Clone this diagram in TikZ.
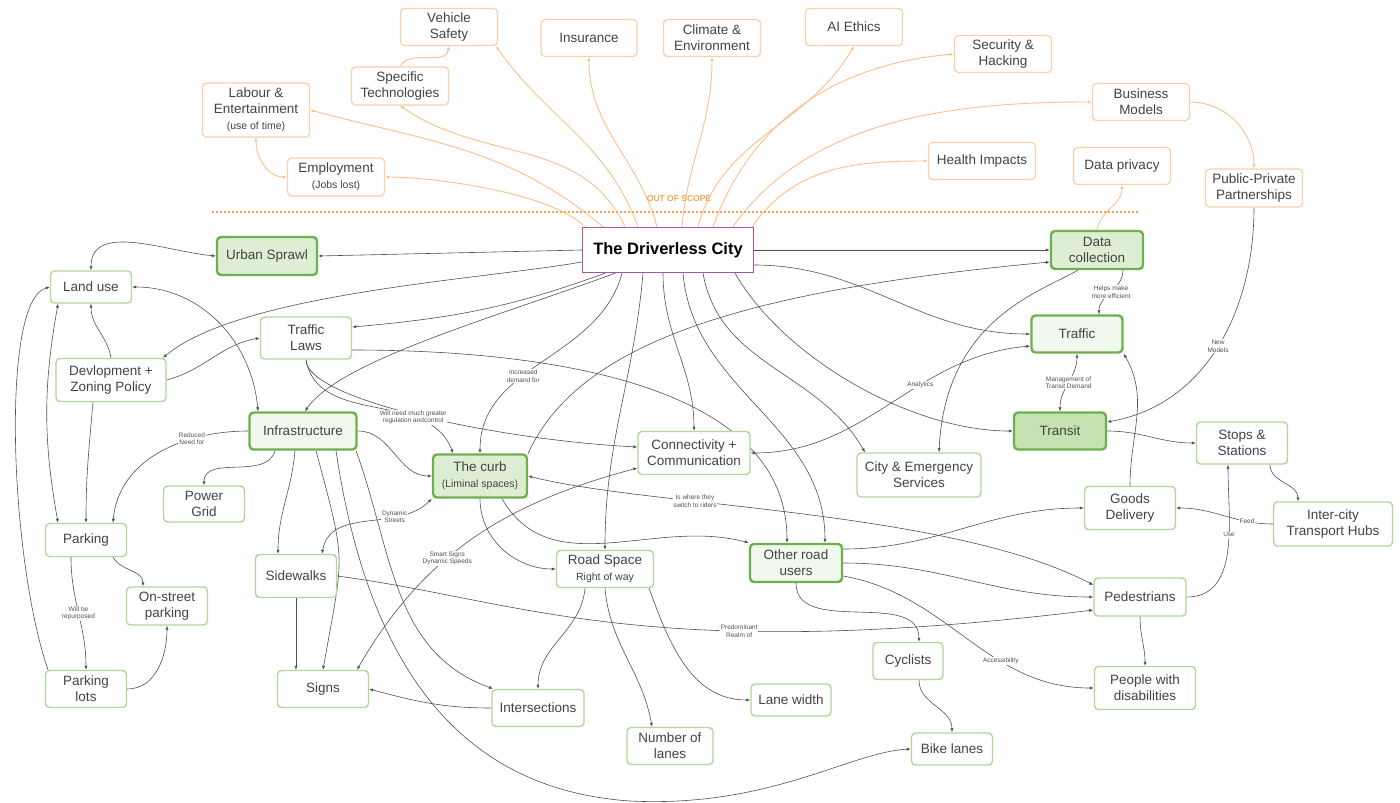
\documentclass[tikz,border=0pt]{standalone}
\usepackage{fontspec}
\setmainfont{Liberation Sans}
\usetikzlibrary{arrows.meta,backgrounds}
\definecolor{ink}{RGB}{67,67,67}
\definecolor{wire}{RGB}{80,80,80}
\definecolor{scopeline}{RGB}{249,192,135}
\definecolor{scopebox}{RGB}{250,208,165}
\definecolor{scopetext}{RGB}{243,165,75}
\definecolor{leaf}{RGB}{176,216,150}
\definecolor{stem}{RGB}{110,175,80}
\definecolor{mint}{RGB}{221,238,212}
\definecolor{pale}{RGB}{241,248,237}
\definecolor{moss}{RGB}{196,226,178}
\definecolor{plum}{RGB}{160,85,160}
\newcommand\subline[1]{{\fontsize{10.5}{13}\selectfont #1}}
\tikzset{
outnode/.style={rectangle,rounded corners=4pt,draw=scopebox,line width=1.2pt,
fill=white,text=ink,align=center,inner sep=2pt,font=\fontsize{13.5}{16}\selectfont},
topic/.style={rectangle,rounded corners=4pt,draw=leaf,line width=1.4pt,
fill=white,text=ink,align=center,inner sep=2pt,font=\fontsize{13.5}{16}\selectfont},
keytopic/.style={topic,draw=stem,line width=2.4pt,fill=mint},
hub/.style={rectangle,draw=plum,line width=1.4pt,fill=white,text=black,
inner sep=2pt,font=\fontsize{16.5}{20}\selectfont\bfseries},
link/.style={draw=wire,line width=0.6pt,-{Latex[length=4pt,width=3.2pt]}},
twoway/.style={draw=wire,line width=0.6pt,{Latex[length=4pt,width=3.2pt]}-{Latex[length=4pt,width=3.2pt]}},
outlink/.style={draw=scopeline,line width=0.9pt,-{Latex[length=4pt,width=3.2pt]}},
outtwoway/.style={draw=scopeline,line width=0.9pt,{Latex[length=4pt,width=3.2pt]}-{Latex[length=4pt,width=3.2pt]}},
lbl/.style={font=\fontsize{6.5}{7.5}\selectfont,text=wire,fill=white,inner sep=0.8pt,align=center}
}

\begin{document}
\begin{tikzpicture}[x=1pt,y=1pt]
\useasboundingbox (0,0) rectangle (1400,-803);

\node[outnode,minimum width=97,minimum height=37] (vsafety) at (449,-27) {Vehicle\\Safety};
\node[outnode,minimum width=96,minimum height=37] (insur) at (589,-38) {Insurance};
\node[outnode,minimum width=97,minimum height=37] (climate) at (712,-38) {Climate \&\\Environment};
\node[outnode,minimum width=97,minimum height=37] (aiethics) at (854,-27) {AI Ethics};
\node[outnode,minimum width=97,minimum height=37] (security) at (1003,-54) {Security \&\\Hacking};
\node[outnode,minimum width=97,minimum height=37] (business) at (1141,-102) {Business\\Models};
\node[outnode,minimum width=97,minimum height=38] (ppp) at (1254,-188) {Public-Private\\Partnerships};
\node[outnode,minimum width=97,minimum height=37] (privacy) at (1122,-166) {Data privacy};
\node[outnode,minimum width=107,minimum height=37] (health) at (982,-161) {Health Impacts};
\node[outnode,minimum width=107,minimum height=54] (labour) at (256,-110) {Labour \&\\Entertainment\\\subline{(use of time)}};
\node[outnode,minimum width=97,minimum height=38] (spectech) at (400,-86) {Specific\\Technologies};
\node[outnode,minimum width=97,minimum height=38] (employ) at (336,-177) {Employment\\\subline{(Jobs lost)}};

\node[font=\fontsize{8.5}{10}\selectfont\bfseries,text=scopetext] (scope) at (679,-199) {OUT OF SCOPE};
\coordinate (cutL) at (212,-212);
\coordinate (cutR) at (1140,-212);
\draw[scopetext,line width=1.6pt,dash pattern=on 1.6pt off 2.4pt] (cutL) -- (cutR);

\node[hub,minimum width=171,minimum height=45] (city) at (668,-250) {The Driverless City};

\node[keytopic,minimum width=100,minimum height=38] (sprawl) at (267,-256) {Urban Sprawl};
\node[keytopic,minimum width=92,minimum height=38] (datacoll) at (1097,-250) {Data\\collection};
\node[keytopic,fill=pale,minimum width=91,minimum height=37] (traffic) at (1077,-334) {Traffic};
\node[keytopic,fill=moss,minimum width=92,minimum height=37] (transit) at (1060,-431) {Transit};
\node[keytopic,fill=pale,minimum width=107,minimum height=37] (infra) at (303,-431) {Infrastructure};
\node[keytopic,minimum width=94,minimum height=43] (curb) at (480,-476) {The curb\\\subline{(Liminal spaces)}};
\node[keytopic,fill=pale,minimum width=92,minimum height=38] (others) at (796,-563) {Other road\\users};

\node[topic,minimum width=81,minimum height=32] (landuse) at (91,-287) {Land use};
\node[topic,minimum width=110,minimum height=43] (zoning) at (111,-380) {Devlopment +\\Zoning Policy};
\node[topic,minimum width=91,minimum height=42] (laws) at (306,-338) {Traffic\\Laws};
\node[topic,minimum width=81,minimum height=36] (power) at (204,-504) {Power\\Grid};
\node[topic,minimum width=81,minimum height=33] (parking) at (86,-540) {Parking};
\node[topic,minimum width=81,minimum height=38] (onstreet) at (167,-606) {On-street\\parking};
\node[topic,minimum width=81,minimum height=37] (lots) at (86,-689) {Parking\\lots};
\node[topic,minimum width=81,minimum height=43] (sidewalks) at (296,-576) {Sidewalks};
\node[topic,minimum width=91,minimum height=37] (signs) at (323,-689) {Signs};
\node[topic,minimum width=112,minimum height=43] (connect) at (694,-453) {Connectivity +\\Communication};
\node[topic,minimum width=124,minimum height=44] (emergency) at (919,-475) {City \& Emergency\\Services};
\node[topic,minimum width=97,minimum height=37] (road) at (605,-569) {Road Space\\\subline{Right of way}};
\node[topic,minimum width=92,minimum height=37] (inters) at (538,-708) {Intersections};
\node[topic,minimum width=86,minimum height=37] (nlanes) at (670,-746) {Number of\\lanes};
\node[topic,minimum width=80,minimum height=32] (lanewidth) at (791,-700) {Lane width};
\node[topic,minimum width=70,minimum height=37] (cyclists) at (908,-661) {Cyclists};
\node[topic,minimum width=81,minimum height=32] (bikelanes) at (952,-749) {Bike lanes};
\node[topic,minimum width=91,minimum height=43] (goods) at (1130,-508) {Goods\\Delivery};
\node[topic,minimum width=91,minimum height=42] (stops) at (1242,-443) {Stops \&\\Stations};
\node[topic,minimum width=119,minimum height=44] (hubs) at (1333,-524) {Inter-city\\Transport Hubs};
\node[topic,minimum width=92,minimum height=38] (peds) at (1140,-597) {Pedestrians};
\node[topic,minimum width=101,minimum height=43] (disab) at (1145,-688) {People with\\disabilities};
\coordinate (dip) at (630,-801);

\begin{scope}[on background layer]
\draw[outlink] ([xshift=-83]city.north) to[out=135,in=0,looseness=0.6] (employ.east);
\draw[outlink] ([xshift=-65]city.north) to[out=140,in=-15] (labour.east);
\draw[outlink] ([xshift=-43]city.north) to[out=115,in=-35] (spectech.south);
\draw[outlink] ([xshift=-30]city.north) to[out=110,in=-55] ([xshift=47]vsafety.south);
\draw[outlink] ([xshift=-11]city.north) to[out=105,in=270] (insur.south);
\draw[outlink] ([xshift=14]city.north) to[out=85,in=270] (climate.south);
\draw[outlink] ([xshift=30]city.north) to[out=75,in=240] (aiethics.south);
\draw[outlink] ([xshift=45]city.north) to[out=70,in=185] (security.west);
\draw[outlink] ([xshift=65]city.north) to[out=55,in=180,looseness=0.9] (business.west);
\draw[outlink] ([xshift=84]city.north) to[out=55,in=180] (health.west);
\draw[outlink] (spectech.north) to[out=60,in=260] (vsafety.south);
\draw[outtwoway] (labour.south) to[out=270,in=180] (employ.west);
\draw[outlink] (business.east) to[out=0,in=90] (ppp.north);
\draw[outlink] (datacoll.north) to[out=80,in=270] (privacy.south);

\draw[link] (city.west) -- (sprawl.east);
\draw[twoway] (sprawl.west) to[out=175,in=90] (landuse.north);
\draw[link] (city.east) -- (datacoll.west);
\draw[link] ([yshift=-12]city.west) to[out=190,in=40,looseness=0.6] ([xshift=52]zoning.north);
\draw[link] ([xshift=-63]city.south) to[out=200,in=5] ([yshift=11]laws.east);
\draw[link] ([xshift=-53]city.south) .. controls (500,-316) and (340,-360) .. ([xshift=2]infra.north);
\draw[link] ([xshift=-46]city.south) to[out=255,in=90] node[lbl,pos=0.6]{Increased\\demand for} (curb.north);
\draw[link] ([xshift=-25]city.south) to[out=265,in=90] (road.north);
\draw[link] ([xshift=-5]city.south) to[out=270,in=90] (connect.north);
\draw[link] ([xshift=15]city.south) to[out=275,in=90] ([xshift=29]others.north);
\draw[link] ([xshift=35]city.south) to[out=280,in=120] ([xshift=-54]emergency.north);
\draw[link] ([xshift=67]city.south) to[out=300,in=180,looseness=0.8] (transit.west);
\draw[link] ([yshift=-15]city.east) to[out=0,in=180] (traffic.west);

\draw[twoway] (landuse.east) to[out=0,in=95] ([xshift=-45]infra.north);
\draw[link] (zoning.north) to[out=100,in=270] (landuse.south);
\draw[link] (zoning.east) to[out=15,in=190] (laws.west);
\draw[link] ([xshift=-18]zoning.south) to[out=265,in=90] (parking.north);
\draw[twoway] ([xshift=-33]landuse.south) to[out=260,in=100] ([xshift=-28]parking.north);
\draw[link] ([xshift=-38]lots.north) .. controls (10,-560) and (0,-300) .. (landuse.west);
\draw[link] (infra.west) to[out=180,in=85] node[lbl,pos=0.3]{Reduced\\Need for} ([xshift=27]parking.north);
\draw[link] ([xshift=27]parking.south) to[out=-60,in=90] ([xshift=-24]onstreet.north);
\draw[link] ([xshift=-15]parking.south) to[out=270,in=90] node[lbl,pos=0.5]{Will be\\repurposed} (lots.north);
\draw[link] (lots.east) to[out=0,in=270] (onstreet.south);

\draw[link] ([xshift=-28]infra.south) to[out=255,in=90] (power.north);
\draw[link] ([xshift=-8]infra.south) to[out=265,in=90] ([xshift=-18]sidewalks.north);
\draw[link] ([xshift=13]infra.south) to[out=285,in=80,looseness=1.4] (signs.north);
\draw[link] ([xshift=33]infra.south) .. controls (370,-680) and (470,-790) .. (dip)
  .. controls (770,-808) and (850,-752) .. (bikelanes.west);
\draw[link] ([xshift=53]infra.south) to[out=290,in=160] ([xshift=-45]inters.north);
\draw[link] (infra.east) to[out=0,in=180] (curb.west);
\draw[link] (laws.south) .. controls (306,-400) and (500,-440) .. ([yshift=6]connect.west);
\draw[link] (laws.south) to[out=280,in=110] node[lbl,pos=0.7]{Will need much greater\\regulation andcontrol} ([xshift=-27]curb.north);
\draw[link] ([yshift=-12]laws.east) to[out=0,in=90,looseness=0.9] ([xshift=-9]others.north);

\draw[link] (curb.north east) .. controls (580,-340) and (750,-290) .. ([yshift=-12]datacoll.west);
\draw[link] (curb.south) to[out=270,in=180] (road.west);
\draw[link] ([xshift=22]curb.south) to[out=300,in=165] (others.north west);
\draw[twoway] (curb.east) .. controls (650,-507) and (950,-510) .. ([yshift=12]peds.west) node[lbl,pos=0.33]{Is where they\\switch to riders};
\draw[twoway] (curb.south west) to[out=225,in=80] node[lbl,pos=0.3]{Dynamic\\Streets} ([xshift=26]sidewalks.north);
\draw[twoway] ([xshift=34]signs.north) to[out=60,in=195] node[lbl,pos=0.4]{Smart Signs\\Dynamic Speeds} ([yshift=-15]connect.west);

\draw[link] (sidewalks.east) .. controls (520,-600) and (640,-665) .. ([yshift=-13]peds.west) node[lbl,pos=0.67]{Predominant\\Realm of};
\draw[link] (sidewalks.south) -- ([xshift=-27]signs.north);
\draw[link] (inters.west) to[out=180,in=-15] (signs.east);
\draw[link] ([xshift=-20]road.south) to[out=265,in=90] (inters.north);
\draw[link] (road.south) to[out=275,in=100] ([xshift=-18]nlanes.north);
\draw[link] ([xshift=44]road.south) to[out=290,in=180] (lanewidth.west);

\draw[link] ([yshift=14]others.east) to[out=0,in=180] (goods.west);
\draw[link] (others.east) to[out=0,in=180] (peds.west);
\draw[link] ([yshift=-13]others.east) to[out=-10,in=180] node[lbl,pos=0.65]{Accessibility} (disab.west);
\draw[link] (others.south) to[out=270,in=90] ([xshift=11]cyclists.north);
\draw[link] ([xshift=11]cyclists.south) to[out=270,in=90] (bikelanes.north);
\draw[link] (peds.south) to[out=270,in=90] (disab.north);
\draw[link] (peds.east) to[out=0,in=270] node[lbl,pos=0.6]{Use} ([xshift=-14]stops.south);
\draw[link] (hubs.west) to[out=180,in=0] node[lbl,pos=0.25]{Feed} (goods.east);
\draw[link] ([xshift=28]stops.south) to[out=270,in=90] ([xshift=-35]hubs.north);
\draw[link] (transit.east) to[out=0,in=180] (stops.west);
\draw[link] (goods.north) to[out=90,in=-60] (traffic.south east);
\draw[twoway] (transit.north) to[out=90,in=270] node[lbl]{Management of\\Transit Demand} (traffic.south);
\draw[link] ([xshift=26]datacoll.south) to[out=270,in=90] node[lbl]{Helps make\\more efficient} ([xshift=22]traffic.north);
\draw[link] ([xshift=-19]datacoll.south) .. controls (1040,-292) and (945,-320) .. ([xshift=20]emergency.north);
\draw[twoway] (connect.east) to[out=0,in=185] node[lbl,pos=0.62]{Analytics} ([yshift=-12]traffic.west);
\draw[link] (ppp.south) to[out=270,in=10] node[lbl,pos=0.5]{New\\Models} ([yshift=9]transit.east);
\end{scope}
\end{tikzpicture}
\end{document}
